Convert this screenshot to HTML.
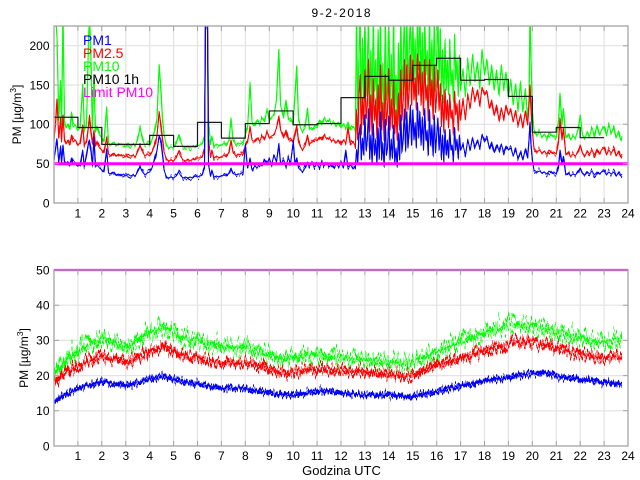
<!DOCTYPE html>
<html><head><meta charset="utf-8">
<style>
html,body{margin:0;padding:0;background:#fff;}
svg{display:block;}
text{font-family:"Liberation Sans",Arial,sans-serif;fill:#000;}
</style></head>
<body>
<svg width="640" height="480" viewBox="0 0 640 480" xmlns="http://www.w3.org/2000/svg" xmlns:xlink="http://www.w3.org/1999/xlink">
<defs>
<clipPath id="c1"><rect x="54" y="26" width="574" height="177"/></clipPath>
<clipPath id="c2"><rect x="54" y="270" width="574" height="176"/></clipPath>
<filter id="ft" filterUnits="userSpaceOnUse" x="0" y="0" width="640" height="240" color-interpolation-filters="sRGB">
<feTurbulence type="fractalNoise" baseFrequency="0.55 0.003" numOctaves="1" seed="5" result="t"/>
<feColorMatrix in="t" type="matrix" values="0 0 0 0 0.5  0 1 0 0 0  0 0 0 0 0  0 0 0 0 1" result="m"/>
<feDisplacementMap in="SourceGraphic" in2="m" scale="12" xChannelSelector="R" yChannelSelector="G"/>
</filter>
<filter id="fm" filterUnits="userSpaceOnUse" x="0" y="250" width="640" height="210" color-interpolation-filters="sRGB">
<feTurbulence type="fractalNoise" baseFrequency="0.7 0.002" numOctaves="1" seed="61" result="t"/>
<feColorMatrix in="t" type="matrix" values="0 0 0 0 0.5  0 1 0 0 0  0 0 0 0 0  0 0 0 0 1" result="m"/>
<feDisplacementMap in="SourceGraphic" in2="m" scale="16" xChannelSelector="R" yChannelSelector="G"/>
</filter>
<filter id="fmb" filterUnits="userSpaceOnUse" x="0" y="250" width="640" height="210" color-interpolation-filters="sRGB">
<feTurbulence type="fractalNoise" baseFrequency="0.7 0.002" numOctaves="1" seed="67" result="t"/>
<feColorMatrix in="t" type="matrix" values="0 0 0 0 0.5  0 1 0 0 0  0 0 0 0 0  0 0 0 0 1" result="m"/>
<feDisplacementMap in="SourceGraphic" in2="m" scale="9" xChannelSelector="R" yChannelSelector="G"/>
</filter>
<filter id="fg" filterUnits="userSpaceOnUse" x="0" y="250" width="640" height="210" color-interpolation-filters="sRGB">
<feTurbulence type="fractalNoise" baseFrequency="0.6 0.002" numOctaves="1" seed="3" result="t"/>
<feColorMatrix in="t" type="matrix" values="0 0 0 0 0.5  0 1 0 0 0  0 0 0 0 0  0 0 0 0 1" result="m"/>
<feDisplacementMap in="SourceGraphic" in2="m" scale="48" xChannelSelector="R" yChannelSelector="G"/>
</filter>
<filter id="fg2" filterUnits="userSpaceOnUse" x="0" y="250" width="640" height="210" color-interpolation-filters="sRGB">
<feTurbulence type="fractalNoise" baseFrequency="0.5 0.002" numOctaves="1" seed="41" result="t"/>
<feColorMatrix in="t" type="matrix" values="0 0 0 0 0.5  0 1 0 0 0  0 0 0 0 0  0 0 0 0 1" result="m"/>
<feDisplacementMap in="SourceGraphic" in2="m" scale="40" xChannelSelector="R" yChannelSelector="G"/>
</filter>
<filter id="fr" filterUnits="userSpaceOnUse" x="0" y="250" width="640" height="210" color-interpolation-filters="sRGB">
<feTurbulence type="fractalNoise" baseFrequency="0.6 0.002" numOctaves="1" seed="11" result="t"/>
<feColorMatrix in="t" type="matrix" values="0 0 0 0 0.5  0 1 0 0 0  0 0 0 0 0  0 0 0 0 1" result="m"/>
<feDisplacementMap in="SourceGraphic" in2="m" scale="34" xChannelSelector="R" yChannelSelector="G"/>
</filter>
<filter id="fr2" filterUnits="userSpaceOnUse" x="0" y="250" width="640" height="210" color-interpolation-filters="sRGB">
<feTurbulence type="fractalNoise" baseFrequency="0.5 0.002" numOctaves="1" seed="53" result="t"/>
<feColorMatrix in="t" type="matrix" values="0 0 0 0 0.5  0 1 0 0 0  0 0 0 0 0  0 0 0 0 1" result="m"/>
<feDisplacementMap in="SourceGraphic" in2="m" scale="28" xChannelSelector="R" yChannelSelector="G"/>
</filter>
<filter id="fb" filterUnits="userSpaceOnUse" x="0" y="250" width="640" height="210" color-interpolation-filters="sRGB">
<feTurbulence type="fractalNoise" baseFrequency="0.6 0.002" numOctaves="1" seed="27" result="t"/>
<feColorMatrix in="t" type="matrix" values="0 0 0 0 0.5  0 1 0 0 0  0 0 0 0 0  0 0 0 0 1" result="m"/>
<feDisplacementMap in="SourceGraphic" in2="m" scale="20" xChannelSelector="R" yChannelSelector="G"/>
</filter>
<filter id="fb2" filterUnits="userSpaceOnUse" x="0" y="250" width="640" height="210" color-interpolation-filters="sRGB">
<feTurbulence type="fractalNoise" baseFrequency="0.5 0.002" numOctaves="1" seed="77" result="t"/>
<feColorMatrix in="t" type="matrix" values="0 0 0 0 0.5  0 1 0 0 0  0 0 0 0 0  0 0 0 0 1" result="m"/>
<feDisplacementMap in="SourceGraphic" in2="m" scale="16" xChannelSelector="R" yChannelSelector="G"/>
</filter>

<polyline id="tg" points="54,14 55.5,14 57,37 58.8,120 60.5,83 61.5,125 63,14 64.5,122 66,128 68.4,124 70,128 71.5,112 73.1,127 75.5,125 77.9,130 80,128 82.7,84 84.5,130 86.5,125 88.5,40 89.5,14 91,60 92.3,128 94,75 95.5,132 97.1,128 99.5,135 101.8,138 104,142 106.6,108 108.5,143 111.4,145 114,142 116.2,146 118.5,143 121,145 123.5,144 125.8,147 128,143 130.5,146 133,144 135.3,146 137.5,140 140.1,128 142.5,140 144.9,145 147.3,143 149.7,146 152,140 154.5,132 157,118 159.2,65 161,90 162.5,120 164,135 166.5,145 168.8,148 171,147 173.6,148 176,144 178.4,136 181,143 183.2,147 185.5,148 187.9,146 190,148 192.7,146 195,148 197.5,146 200,145 202.3,144 204.5,138 205.5,14 207.5,14 208.5,120 210.5,144 211.9,136 214,146 216.6,144 219,146 221.4,145 224,143 226.2,146 229,140 231,118 233,140 235.8,145 238,143 240.6,144 243,142 245.3,135 247.5,128 250.1,84 252,122 254.9,126 257,120 259.7,124 262,118 264.5,122 267,110 269.3,120 271.5,117 274,115 276.5,100 278.8,50 280.5,105 283.6,118 286,100 288.4,120 290.5,118 293.2,125 295,95 296.7,66 298.5,120 300.5,128 302.7,132 305,128 307.5,108 309.5,128 312.3,130 314.5,126 317.1,128 319.5,120 321.9,125 324,118 326.7,122 329,120 331.4,124 334,122 336.2,126 338.5,122 341,128 343.5,124 345.8,128 348,122 350.6,130 353,127 355.4,130 356.5,14 357.7,110 358.9,60 360.1,14 361.3,120 362.5,40 363.7,100 364.9,14 366.1,95 367.3,70 368.5,14 369.7,105 370.9,50 372.1,112 373.3,14 374.5,90 375.7,60 376.9,115 378.1,30 379.3,98 380.5,14 381.7,108 382.9,65 384.1,120 385.3,14 386.4,100 387.6,80 388.8,14 390,110 391.2,55 392.4,105 393.6,14 394.8,112 396,75 397.2,118 398.4,45 399.6,110 400.8,14 402,95 403.2,60 404.4,14 405.6,100 406.8,14 408,90 409.2,50 410.4,14 411.6,85 412.8,14 414,80 415.1,40 416.3,90 417.5,14 418.7,70 419.9,14 421.1,85 422.3,35 423.5,95 424.7,14 425.9,75 427.1,50 428.3,100 429.5,14 430.7,85 431.9,40 433.1,95 434.3,14 435.5,90 436.7,60 437.9,14 439.1,80 440.3,30 441.4,95 442.6,50 443.8,100 445,40 446.2,90 447.4,60 448.6,95 449.8,40 451,85 452.2,70 453.4,100 454.6,35 455.8,80 457,60 458.2,95 459.4,55 460.6,90 463,70 465.4,95 467.8,60 470.2,85 472.6,55 475,80 477.4,62 479.7,88 482,50 484.5,75 487,60 489.3,85 491.7,65 494.1,90 496.5,70 498.9,95 501.3,65 503.7,88 506,72 508.4,98 510.8,80 513.2,105 515.6,85 518,110 520.4,82 522.8,112 525.2,90 527.6,118 529,100 530,14 531,60 532.3,110 534,130 537.1,135 539.5,132 541.9,137 544.3,134 546.7,138 549,133 551.5,136 553.9,135 556.3,138 558.5,120 560,93 562,125 563.4,110 565.8,138 568.2,134 570.6,140 573,136 575.4,138 578,130 580.2,115 582.5,135 585,138 587.5,132 589.7,136 592,128 594.5,135 597,125 599.3,135 601.5,130 604.1,127 606.5,136 608.9,125 611.3,133 613.7,128 616,138 618.5,132 620.5,140 622,136"/>
<polyline id="tr" points="54,140 55.5,125 57,100 58.8,138 60.5,120 61.5,142 63,115 64.5,140 66,144 68.4,140 70,143 71.5,135 73.1,142 75.5,140 77.9,145 80,143 82.7,125 84.5,145 86.5,142 88.5,125 89.5,115 91,132 92.3,143 94,130 95.5,146 97.1,143 99.5,148 101.8,150 104,153 106.6,138 108.5,154 111.4,156 114,153 116.2,156 118.5,154 121,156 123.5,155 125.8,157 128,154 130.5,156 133,155 135.3,157 137.5,152 140.1,146 142.5,152 144.9,156 147.3,154 149.7,156 152,152 154.5,146 157,135 159.2,112 161,125 162.5,140 164,152 166.5,159 168.8,161 171,160 173.6,161 176,158 178.4,152 181,157 183.2,160 185.5,161 187.9,159 190,161 192.7,159 195,160 197.5,158 200,158 202.3,157 204.5,150 205.5,14 207.5,14 208.5,140 210.5,157 211.9,150 214,158 216.6,156 219,158 221.4,157 224,155 226.2,157 229,152 231,140 233,152 235.8,156 238,154 240.6,155 243,152 245.3,146 247.5,142 250.1,128 252,140 254.9,142 257,138 259.7,141 262,136 264.5,140 267,132 269.3,138 271.5,136 274,135 276.5,128 278.8,118 280.5,130 283.6,138 286,130 288.4,140 290.5,138 293.2,143 295,135 296.7,125 298.5,142 300.5,147 302.7,150 305,146 307.5,135 309.5,144 312.3,142 314.5,139 317.1,141 319.5,137 321.9,140 324,135 326.7,139 329,138 331.4,141 334,140 336.2,143 338.5,140 341,145 343.5,140 345.8,143 348,127 350.6,145 353,142 355.4,146 356.5,110 357.7,140 358.9,95 360.1,75 361.3,135 362.5,100 363.7,125 364.9,70 366.1,118 367.3,105 368.5,60 369.7,130 370.9,95 372.1,135 373.3,80 374.5,120 375.7,100 376.9,138 378.1,85 379.3,125 380.5,65 381.7,130 382.9,105 384.1,140 385.3,75 386.4,125 387.6,110 388.8,70 390,130 391.2,100 392.4,128 393.6,80 394.8,132 396,110 397.2,138 398.4,95 399.6,130 400.8,70 402,120 403.2,100 404.4,60 405.6,118 406.8,65 408,110 409.2,90 410.4,55 411.6,105 412.8,60 414,100 415.1,80 416.3,110 417.5,55 418.7,95 419.9,62 421.1,105 422.3,75 423.5,115 424.7,60 425.9,100 427.1,85 428.3,120 429.5,60 430.7,105 431.9,80 433.1,118 434.3,65 435.5,110 436.7,95 437.9,70 439.1,110 440.3,85 441.4,125 442.6,95 443.8,130 445,90 446.2,120 447.4,100 448.6,128 449.8,95 451,118 452.2,110 453.4,132 454.6,92 455.8,115 457,105 458.2,130 459.4,100 460.6,120 463,100 465.4,118 467.8,95 470.2,108 472.6,88 475,100 477.4,90 479.7,105 482,88 484.5,95 487,92 489.3,108 491.7,100 494.1,115 496.5,105 498.9,120 501.3,108 503.7,118 506,105 508.4,115 510.8,110 513.2,122 515.6,112 518,125 520.4,115 522.8,128 525.2,112 527.6,125 529,105 530,85 531,110 532.3,130 534,148 537.1,152 539.5,150 541.9,153 544.3,151 546.7,154 549,150 551.5,153 553.9,152 556.3,154 558.5,140 560,118 562,140 563.4,130 565.8,155 568.2,152 570.6,157 573,154 575.4,156 578,152 580.2,145 582.5,153 585,156 587.5,151 589.7,154 592,150 594.5,155 597,149 599.3,154 601.5,150 604.1,148 606.5,155 608.9,150 611.3,153 613.7,149 616,156 618.5,152 620.5,157 622,154"/>
<polyline id="tb" points="54,160 55.5,150 57,140 58.8,162 60.5,148 61.5,163 63,145 64.5,162 66,165 68.4,162 70,164 71.5,158 73.1,164 75.5,163 77.9,166 80,165 82.7,150 84.5,166 86.5,155 88.5,142 89.5,140 91,150 92.3,165 94,137 95.5,167 97.1,165 99.5,168 101.8,170 104,172 106.6,150 108.5,173 111.4,174 114,172 116.2,175 118.5,174 121,176 123.5,174 125.8,176 128,174 130.5,176 133,175 135.3,176 137.5,172 140.1,167 142.5,172 144.9,175 147.3,173 149.7,172 152,168 154.5,160 157,150 159.2,136 161,140 162.5,155 164,170 166.5,177 168.8,178 171,177 173.6,178 176,176 178.4,172 181,176 183.2,178 185.5,177 187.9,178 190,177 192.7,178 195,176 197.5,177 200,176 202.3,175 204.5,168 205.5,14 207.5,30 208.5,165 210.5,176 211.9,170 214,177 216.6,176 219,177 221.4,176 224,175 226.2,176 229,173 231,168 233,173 235.8,175 238,174 240.6,174 243,172 245.3,145 247.5,168 250.1,160 252,170 254.9,166 257,168 259.7,164 262,166 264.5,160 267,165 269.3,158 271.5,165 274,155 276.5,162 278.8,146 280.5,164 283.6,160 286,166 288.4,158 290.5,163 293.2,143 295,165 296.7,158 298.5,168 300.5,170 302.7,172 305,168 307.5,162 309.5,166 312.3,163 314.5,167 317.1,164 319.5,168 321.9,162 324,166 326.7,163 329,167 331.4,165 334,168 336.2,164 338.5,167 341,163 343.5,168 345.8,150 348,167 350.6,165 353,169 355.4,166 356.5,150 357.7,163 358.9,135 360.1,125 361.3,160 362.5,140 363.7,155 364.9,115 366.1,150 367.3,140 368.5,110 369.7,158 370.9,135 372.1,163 373.3,125 374.5,155 375.7,140 376.9,165 378.1,128 379.3,158 380.5,112 381.7,160 382.9,145 384.1,166 385.3,120 386.4,155 387.6,148 388.8,118 390,160 391.2,140 392.4,158 393.6,125 394.8,162 396,148 397.2,165 398.4,135 399.6,160 400.8,115 402,152 403.2,140 404.4,110 405.6,150 406.8,112 408,148 409.2,130 410.4,105 411.6,145 412.8,110 414,140 415.1,125 416.3,148 417.5,105 418.7,138 419.9,112 421.1,145 422.3,120 423.5,150 424.7,110 425.9,140 427.1,130 428.3,155 429.5,110 430.7,145 431.9,125 433.1,155 434.3,115 435.5,150 436.7,135 437.9,118 439.1,150 440.3,128 441.4,158 442.6,135 443.8,160 445,130 446.2,155 447.4,140 448.6,158 449.8,130 451,150 452.2,145 453.4,160 454.6,128 455.8,150 457,140 458.2,158 459.4,135 460.6,150 463,145 465.4,155 467.8,140 470.2,150 472.6,138 475,147 477.4,140 479.7,148 482,135 484.5,142 487,138 489.3,148 491.7,142 494.1,152 496.5,145 498.9,150 501.3,144 503.7,152 506,146 508.4,150 510.8,148 513.2,156 515.6,150 518,158 520.4,152 522.8,160 525.2,150 527.6,158 529,140 530,122 531,145 532.3,160 534,170 537.1,172 539.5,171 541.9,173 544.3,172 546.7,174 549,171 551.5,173 553.9,172 556.3,174 558.5,165 560,150 562,165 563.4,158 565.8,175 568.2,173 570.6,176 573,174 575.4,175 578,172 580.2,168 582.5,173 585,175 587.5,172 589.7,174 592,171 594.5,175 597,172 599.3,174 601.5,172 604.1,171 606.5,175 608.9,172 611.3,174 613.7,172 616,176 618.5,173 620.5,176 622,174"/>
<polyline id="bg2" points="54,373.8 61.2,365 77.9,351 101.8,338.6 113.8,342.2 125.8,345.7 137.7,340.4 149.7,333.4 161.6,328.1 173.6,333.4 185.5,338.6 197.5,340.4 209.5,345.7 221.4,347.4 245.3,347.4 257.3,351 269.3,354.5 281.2,358 293.2,358 305.1,356.2 317.1,354.5 341,358 364.9,359.8 388.8,361.5 410.4,363.3 424.7,356.2 436.7,351 460.6,342.2 484.5,333.4 508.4,326.3 520.4,324.6 532.3,326.3 544.3,328.1 556.3,331.6 580.2,338.6 592.1,342.2 604.1,342.2 622,338.6"/>
<polyline id="br2" points="54,382.6 61.2,375.6 77.9,365 101.8,356.2 113.8,358 125.8,361.5 137.7,358 149.7,351 161.6,347.4 173.6,351 185.5,356.2 197.5,358 209.5,361.5 221.4,363.3 245.3,363.3 257.3,365 269.3,370.3 281.2,372.1 293.2,372.8 305.1,370.3 317.1,368.6 341,370.3 364.9,372.1 388.8,374.5 410.4,376.3 424.7,370.3 436.7,365 460.6,358 484.5,351 508.4,343.9 520.4,342.2 532.3,342.2 544.3,343.9 556.3,347.4 580.2,354.5 592.1,356.2 604.1,358 622,356.2"/>
<polyline id="bb2" points="54,402 61.2,396.7 77.9,388.6 101.8,381.9 125.8,385.5 137.7,382.6 149.7,379.1 161.6,376.3 173.6,379.1 185.5,382.6 197.5,383.7 221.4,387.9 245.3,388.6 269.3,393.2 293.2,395 305.1,393.2 317.1,390.7 341,392.5 364.9,395 388.8,395 410.4,397.4 424.7,393.2 436.7,391.4 460.6,386.2 484.5,380.9 508.4,377.4 532.3,373.8 544.3,372.8 556.3,376.3 580.2,379.1 592.1,380.9 604.1,382.6 622,384.4"/>
</defs>
<rect width="640" height="480" fill="#fff"/>
<!-- grids -->
<g stroke="#e3e3e3" stroke-width="1.2" fill="none">
<path d="M77.9 26V203M101.8 26V203M125.8 26V203M149.7 26V203M173.6 26V203M197.5 26V203M221.4 26V203M245.3 26V203M269.3 26V203M293.2 26V203M317.1 26V203M341 26V203M364.9 26V203M388.8 26V203M412.8 26V203M436.7 26V203M460.6 26V203M484.5 26V203M508.4 26V203M532.3 26V203M556.3 26V203M580.2 26V203M604.1 26V203"/>
<path d="M54 163.7H628M54 124.3H628M54 85H628M54 45.7H628"/>
<path d="M77.9 270V446M101.8 270V446M125.8 270V446M149.7 270V446M173.6 270V446M197.5 270V446M221.4 270V446M245.3 270V446M269.3 270V446M293.2 270V446M317.1 270V446M341 270V446M364.9 270V446M388.8 270V446M412.8 270V446M436.7 270V446M460.6 270V446M484.5 270V446M508.4 270V446M532.3 270V446M556.3 270V446M580.2 270V446M604.1 270V446"/>
<path d="M54 410.8H628M54 375.6H628M54 340.4H628M54 305.2H628"/>
</g>

<!-- TOP PLOT DATA -->
<g clip-path="url(#c1)" fill="none" stroke-linejoin="round">
<use href="#tg" xlink:href="#tg" stroke="#00ff00" stroke-width="1"/>
<use href="#tg" xlink:href="#tg" stroke="#00ff00" stroke-width="1.1" filter="url(#ft)"/>
<use href="#tr" xlink:href="#tr" stroke="#ff0000" stroke-width="1"/>
<use href="#tr" xlink:href="#tr" stroke="#ff0000" stroke-width="1.1" filter="url(#ft)"/>
<use href="#tb" xlink:href="#tb" stroke="#0000ff" stroke-width="1"/>
<use href="#tb" xlink:href="#tb" stroke="#0000ff" stroke-width="1.1" filter="url(#ft)"/>
<path d="M54 117.25H77.92V127.48H101.83V144.39H149.67V135.35H173.58V146.36H197.5V122.37H221.42V138.1H245.33V123.55H269.25V110.96H293.17V124.73H317.08V123.55H341V97.59H364.92V76.35H388.83V80.28H412.75V65.33H436.67V58.25H460.58V80.28H484.5V79.49H508.42V96.41H532.33V132.2H556.25V127.48H580.17V137.71H604.08" fill="none" stroke="#1a1a1a" stroke-width="1.2"/>
<path d="M54 163.7H628" stroke="#ff00ff" stroke-width="3"/>
</g>

<!-- BOTTOM PLOT DATA -->
<g clip-path="url(#c2)" fill="none" stroke-linejoin="round">
<use href="#bg2" xlink:href="#bg2" stroke="#00ff00" stroke-width="2.2" filter="url(#fm)"/>
<use href="#bg2" xlink:href="#bg2" stroke="#00ff00" stroke-width="3" filter="url(#fg)"/>
<use href="#bg2" xlink:href="#bg2" stroke="#00ff00" stroke-width="3" filter="url(#fg2)"/>
<use href="#br2" xlink:href="#br2" stroke="#ff0000" stroke-width="2.2" filter="url(#fm)"/>
<use href="#br2" xlink:href="#br2" stroke="#ff0000" stroke-width="3" filter="url(#fr)"/>
<use href="#br2" xlink:href="#br2" stroke="#ff0000" stroke-width="3" filter="url(#fr2)"/>
<use href="#bb2" xlink:href="#bb2" stroke="#0000ff" stroke-width="2" filter="url(#fmb)"/>
<use href="#bb2" xlink:href="#bb2" stroke="#0000ff" stroke-width="2.4" filter="url(#fb)"/>
<use href="#bb2" xlink:href="#bb2" stroke="#0000ff" stroke-width="2.4" filter="url(#fb2)"/>
</g>
<path d="M54 270H628" stroke="#ff00ff" stroke-width="2.2"/>

<!-- axes boxes and ticks -->
<g stroke="#a3a3a3" fill="none" stroke-width="1">
<rect x="54" y="26" width="574" height="177" stroke-width="1.3"/>
<rect x="54" y="270" width="574" height="176" stroke-width="1.3"/>
<path d="M77.9 203v-5M101.8 203v-5M125.8 203v-5M149.7 203v-5M173.6 203v-5M197.5 203v-5M221.4 203v-5M245.3 203v-5M269.3 203v-5M293.2 203v-5M317.1 203v-5M341 203v-5M364.9 203v-5M388.8 203v-5M412.8 203v-5M436.7 203v-5M460.6 203v-5M484.5 203v-5M508.4 203v-5M532.3 203v-5M556.3 203v-5M580.2 203v-5M604.1 203v-5"/>
<path d="M77.9 26v5M101.8 26v5M125.8 26v5M149.7 26v5M173.6 26v5M197.5 26v5M221.4 26v5M245.3 26v5M269.3 26v5M293.2 26v5M317.1 26v5M341 26v5M364.9 26v5M388.8 26v5M412.8 26v5M436.7 26v5M460.6 26v5M484.5 26v5M508.4 26v5M532.3 26v5M556.3 26v5M580.2 26v5M604.1 26v5"/>
<path d="M54 163.7h5M54 124.3h5M54 85h5M54 45.7h5M628 163.7h-5M628 124.3h-5M628 85h-5M628 45.7h-5"/>
<path d="M77.9 446v-5M101.8 446v-5M125.8 446v-5M149.7 446v-5M173.6 446v-5M197.5 446v-5M221.4 446v-5M245.3 446v-5M269.3 446v-5M293.2 446v-5M317.1 446v-5M341 446v-5M364.9 446v-5M388.8 446v-5M412.8 446v-5M436.7 446v-5M460.6 446v-5M484.5 446v-5M508.4 446v-5M532.3 446v-5M556.3 446v-5M580.2 446v-5M604.1 446v-5"/>
<path d="M77.9 270v5M101.8 270v5M125.8 270v5M149.7 270v5M173.6 270v5M197.5 270v5M221.4 270v5M245.3 270v5M269.3 270v5M293.2 270v5M317.1 270v5M341 270v5M364.9 270v5M388.8 270v5M412.8 270v5M436.7 270v5M460.6 270v5M484.5 270v5M508.4 270v5M532.3 270v5M556.3 270v5M580.2 270v5M604.1 270v5"/>
<path d="M54 410.8h5M54 375.6h5M54 340.4h5M54 305.2h5M628 410.8h-5M628 375.6h-5M628 340.4h-5M628 305.2h-5"/>
</g>
<!-- title -->
<text x="341" y="17" font-size="12" text-anchor="middle" textLength="59" lengthAdjust="spacing">9-2-2018</text>
<!-- y tick labels -->
<g font-size="12" text-anchor="end">
<text x="49.5" y="207.3">0</text>
<text x="49.5" y="168">50</text>
<text x="49.5" y="128.6">100</text>
<text x="49.5" y="89.3">150</text>
<text x="49.5" y="50">200</text>
<text x="49.5" y="450.3">0</text>
<text x="49.5" y="415.1">10</text>
<text x="49.5" y="379.9">20</text>
<text x="49.5" y="344.7">30</text>
<text x="49.5" y="309.5">40</text>
<text x="49.5" y="274.3">50</text>
</g>
<g font-size="12" text-anchor="middle">
<text x="77.9" y="217.5">1</text><text x="101.8" y="217.5">2</text><text x="125.8" y="217.5">3</text><text x="149.7" y="217.5">4</text><text x="173.6" y="217.5">5</text><text x="197.5" y="217.5">6</text><text x="221.4" y="217.5">7</text><text x="245.3" y="217.5">8</text><text x="269.3" y="217.5">9</text><text x="293.2" y="217.5">10</text><text x="317.1" y="217.5">11</text><text x="341" y="217.5">12</text><text x="364.9" y="217.5">13</text><text x="388.8" y="217.5">14</text><text x="412.8" y="217.5">15</text><text x="436.7" y="217.5">16</text><text x="460.6" y="217.5">17</text><text x="484.5" y="217.5">18</text><text x="508.4" y="217.5">19</text><text x="532.3" y="217.5">20</text><text x="556.3" y="217.5">21</text><text x="580.2" y="217.5">22</text><text x="604.1" y="217.5">23</text><text x="628" y="217.5">24</text>
</g>
<g font-size="12" text-anchor="middle">
<text x="77.9" y="460">1</text><text x="101.8" y="460">2</text><text x="125.8" y="460">3</text><text x="149.7" y="460">4</text><text x="173.6" y="460">5</text><text x="197.5" y="460">6</text><text x="221.4" y="460">7</text><text x="245.3" y="460">8</text><text x="269.3" y="460">9</text><text x="293.2" y="460">10</text><text x="317.1" y="460">11</text><text x="341" y="460">12</text><text x="364.9" y="460">13</text><text x="388.8" y="460">14</text><text x="412.8" y="460">15</text><text x="436.7" y="460">16</text><text x="460.6" y="460">17</text><text x="484.5" y="460">18</text><text x="508.4" y="460">19</text><text x="532.3" y="460">20</text><text x="556.3" y="460">21</text><text x="580.2" y="460">22</text><text x="604.1" y="460">23</text><text x="628" y="460">24</text>
</g>
<!-- y axis labels -->
<text transform="translate(21,114.5) rotate(-90)" font-size="12" text-anchor="middle">PM [µg/m<tspan font-size="8.5" dy="-5">3</tspan><tspan dy="5">]</tspan></text>
<text transform="translate(28,358) rotate(-90)" font-size="12" text-anchor="middle">PM [µg/m<tspan font-size="8.5" dy="-5">3</tspan><tspan dy="5">]</tspan></text>
<!-- x label -->
<text x="341.5" y="475" font-size="13" text-anchor="middle">Godzina UTC</text>
<!-- legend -->
<g font-size="14">
<text x="83" y="45" style="fill:#0000ff">PM1</text>
<text x="83" y="58" style="fill:#ff0000">PM2.5</text>
<text x="83" y="71" style="fill:#00ff00">PM10</text>
<text x="83" y="84" style="fill:#000000">PM10 1h</text>
<text x="83" y="97" style="fill:#ff00ff">Limit PM10</text>
</g>
</svg>
</body></html>
